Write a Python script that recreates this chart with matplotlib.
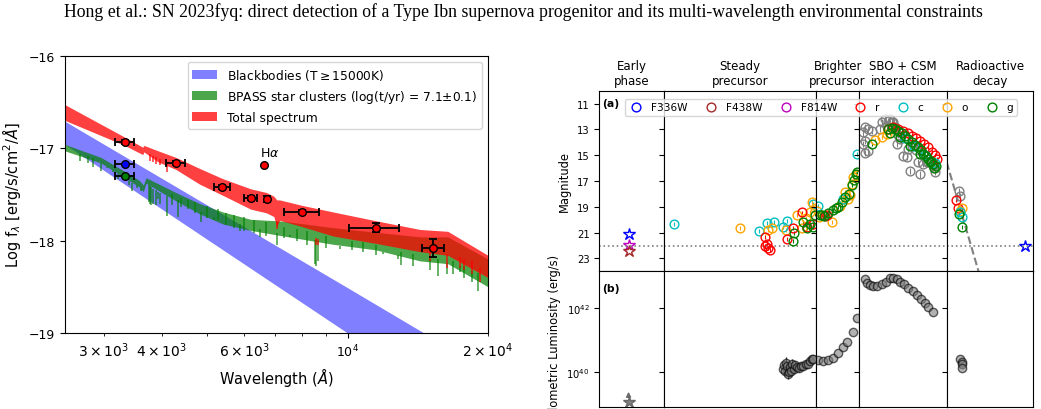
import numpy as np
import matplotlib
matplotlib.use("Agg")
import matplotlib.pyplot as plt
from matplotlib.lines import Line2D
from matplotlib.ticker import FixedLocator, NullLocator, NullFormatter

W, H = 1041, 410

# ---------------- SED panel data (log f_lambda vs wavelength in Angstrom) ----------------
bb_wl = [2480, 10000, 20000]
bb_hi = [-16.71, -18.51, -19.41]
bb_lo = [-16.96, -19.00, -20.01]

bpass_wl = [2480, 2960, 3327, 3580, 3650, 3700, 4285, 4820, 5400, 6200, 7270, 9300, 11480, 14300, 16400, 20000]
bpass_hi = [-16.96, -17.10, -17.25, -17.35, -17.40, -17.32, -17.48, -17.60, -17.69, -17.77, -17.79, -17.86, -17.91, -17.96, -17.96, -18.20]
bpass_lo = [-17.03, -17.16, -17.32, -17.42, -17.47, -17.38, -17.57, -17.71, -17.82, -17.89, -17.95, -18.04, -18.10, -18.22, -18.25, -18.50]

# absorption features in the BPASS spectrum: wavelength, top, bottom
bpass_line_wl = [2670, 2780, 2850, 2960, 3050, 3140, 3220, 3400, 3460, 3530, 3600,
                 3750, 3770, 3798, 3835, 3889, 3933, 3970, 4102, 4200, 4340, 4400, 4550,
                 4700, 4861, 5000, 5170, 5270, 5500, 5700, 5890, 6000, 6300, 6490, 6700,
                 7050, 7300, 7520, 7800, 8200, 8498, 8542, 8662, 9000, 9630, 10200, 10800,
                 11500, 11930, 12800, 13000, 13800, 15000, 15600, 16300, 16800, 17410,
                 17800, 18500, 19000]
bpass_line_top = [-17.06, -17.09, -17.11, -17.16, -17.20, -17.24, -17.28, -17.36, -17.38, -17.40, -17.43,
                  -17.40, -17.41, -17.42, -17.44, -17.45, -17.47, -17.48, -17.52, -17.50, -17.56, -17.54,
                  -17.56, -17.58, -17.69, -17.63, -17.74, -17.66, -17.70, -17.72, -17.82, -17.75, -17.78,
                  -17.87, -17.80, -17.92, -17.85, -17.94, -17.88, -17.90, -17.99, -17.99, -18.00, -17.95,
                  -18.06, -18.00, -18.02, -18.05, -18.12, -18.16, -18.12, -18.14, -18.20, -18.20, -18.24,
                  -18.22, -18.27, -18.28, -18.33, -18.35]
bpass_line_bot = [-17.14, -17.16, -17.20, -17.25, -17.22, -17.26, -17.33, -17.40, -17.46, -17.43, -17.46,
                  -17.58, -17.60, -17.61, -17.60, -17.62, -17.55, -17.60, -17.73, -17.62, -17.75, -17.64,
                  -17.66, -17.70, -17.80, -17.76, -17.78, -17.78, -17.83, -17.86, -17.90, -17.90, -17.92,
                  -17.96, -17.95, -18.05, -17.97, -17.96, -18.00, -18.05, -18.25, -18.27, -18.22, -18.08,
                  -18.09, -18.10, -18.12, -18.16, -18.15, -18.20, -18.26, -18.28, -18.32, -18.38, -18.36,
                  -18.36, -18.34, -18.40, -18.45, -18.55]

total_wl = [2480, 3327, 3640, 3660, 3930, 4285, 4820, 5400, 6200, 6700, 6950, 7050, 7150,
            8000, 9300, 11480, 14300, 16400, 20000]
total_hi = [-16.53, -16.88, -16.99, -16.97, -17.03, -17.10, -17.22, -17.33, -17.44, -17.48, -17.52,
            -17.56, -17.56, -17.62, -17.69, -17.785, -17.88, -17.90, -18.16]
total_lo = [-16.70, -16.97, -17.07, -17.04, -17.15, -17.23, -17.39, -17.51, -17.66, -17.70, -17.74,
            -17.85, -17.78, -17.85, -17.95, -18.03, -18.12, -18.16, -18.40]

total_line_wl = [3770, 3835, 3889, 3970, 4102, 7050, 8542, 8662, 15000, 16300, 17410, 17800, 18500, 19200]
total_line_top = [-17.06, -17.08, -17.10, -17.12, -17.16, -17.80, -17.97, -17.98, -18.10, -18.14, -18.18,
                  -18.20, -18.22, -18.30]
total_line_bot = [-17.14, -17.15, -17.17, -17.18, -17.26, -17.88, -18.05, -18.05, -18.22, -18.30, -18.30,
                  -18.32, -18.36, -18.45]

phot_wl = [3327, 4285, 5395, 6196, 6720, 8000, 11480, 15270]
phot_f = [-16.93, -17.16, -17.42, -17.54, -17.55, -17.69, -17.86, -18.08]
phot_wlerr = [155, 205, 215, 200, 0, 690, 1430, 850]
phot_ferr = [0.02, 0.02, 0.02, 0.02, 0.03, 0.02, 0.045, 0.10]
bb_phot = (3327, -17.17, 155)
bpass_phot = (3327, -17.30, 155)
halpha_phot = (6607, -17.18)

# ---------------- light curve data (x = position inside each phase panel, 0-100) ----------------
phases = ["Early\nphase", "Steady\nprecursor", "Brighter\nprecursor",
          "SBO + CSM\ninteraction", "Radioactive\ndecay"]
filters = ["F336W", "F438W", "F814W", "r", "c", "o", "g"]
colors = {"F336W": "blue", "F438W": "brown", "F814W": "m", "r": "red",
          "c": "c", "o": "orange", "g": "g", "other": "gray"}

early_stars = {"F336W": ([45], [21.1]), "F814W": ([45], [21.95]), "F438W": ([45], [22.45])}
steady = {
    "c": ([6.4, 62.6, 67.5, 72.3, 78.4, 80.7, 97.8],
          [20.31, 20.88, 20.23, 20.15, 20.54, 20.10, 18.75]),
    "o": ([50.2, 68.6, 70.8, 80.2, 87.3, 90.6, 93.4, 96.0, 97.4, 99.3],
          [20.67, 20.80, 20.62, 20.80, 19.65, 20.62, 19.90, 19.38, 18.60, 19.13]),
    "r": ([66.6, 66.4, 67.5, 68.6, 69.7, 81.1, 84.6, 90.6, 93.9, 98.0],
          [21.36, 22.03, 21.90, 22.20, 22.38, 21.49, 20.67, 19.44, 20.54, 20.30]),
    "g": ([85.0, 85.5, 91.6, 94.3, 96.0, 98.2, 99.3],
          [21.64, 21.05, 20.15, 20.62, 20.30, 20.54, 19.60]),
}
brighter = {
    "o": ([2.3, 7.0, 36.3, 55.4, 67.0, 74.6, 78.5, 83.0, 86.1, 93.9],
          [19.30, 19.80, 20.20, 18.90, 17.85, 18.36, 18.10, 17.20, 16.70, 16.57]),
    "r": ([20.8, 24.7], [19.70, 19.65]),
    "c": ([5.3, 63.0, 94.0], [18.92, 18.36, 14.90]),
    "g": ([9.2, 13.2, 18.5, 28.4, 40.0, 46.2, 51.5, 59.4, 67.0, 76.9, 82.4, 87.8, 92.4, 95.4],
          [19.60, 19.65, 19.70, 19.50, 19.26, 19.10, 19.00, 18.60, 18.23, 17.98, 17.34, 16.95, 16.44, 16.30]),
}
sbo = {
    "other": ([6.5, 4.6, 10.3, 14.2, 6.5, 4.6, 10.3, 6.5, 29.4, 33.2, 37.1, 25.6, 31.4, 40.8, 23.7,
               35.1, 38.6, 44.3, 42.8, 46.6, 50.3, 54.2, 56.1, 58.0, 60.3, 64.9, 67.5, 69.5,
               73.2, 77.1, 78.9, 84.7, 86.6, 86.6],
              [12.85, 13.23, 12.98, 13.10, 13.87, 14.13, 14.70, 14.85, 12.20, 12.34, 12.46, 12.46, 12.72,
               12.85, 12.98, 12.20, 12.40, 13.40, 14.13, 13.75, 15.03, 15.15, 14.52, 16.23, 14.30, 14.60,
               15.54, 16.49, 15.67, 15.54, 15.54, 15.80, 15.98, 16.31]),
    "r": ([32.8, 38.6, 44.3, 50.0, 55.7, 60.3, 64.9, 69.5, 74.1, 78.6, 83.2, 86.6, 88.9],
          [12.95, 12.85, 12.95, 13.10, 13.30, 13.50, 13.70, 13.90, 14.15, 14.40, 14.75, 15.00, 15.30]),
    "c": ([52.3, 63.0, 75.0, 86.6], [13.70, 14.26, 15.00, 15.60]),
    "o": ([18.0, 25.6, 31.4], [13.80, 13.57, 13.36]),
    "g": ([14.2, 33.2, 37.1, 40.8, 44.6, 48.5, 52.3, 56.1, 60.0, 63.7, 67.5, 70.6, 73.2, 76.3,
           78.9, 82.0, 84.7, 87.8, 35.0, 46.5, 58.0, 69.5, 80.9, 85.5],
          [14.13, 13.00, 12.90, 13.00, 13.10, 13.30, 13.49, 13.75, 14.00, 14.20, 14.38, 14.60, 14.90,
           15.10, 15.28, 15.45, 15.67, 15.87, 13.30, 13.60, 14.30, 14.90, 15.50, 16.00]),
}
decay = {
    "other": ([14.5, 15.0], [17.80, 18.20]),
    "r": ([10.7, 13.4], [18.49, 19.13]),
    "o": ([17.3, 15.4], [19.08, 19.30]),
    "c": ([15.4, 17.3], [19.40, 19.77]),
    "g": ([14.5, 17.3], [19.52, 20.54]),
}
decay_star = ([90.4], [22.0])
decay_tail_t = [0, 40]
decay_tail_mag = [15.55, 24.75]
limit_mag = 22.0

# (b) bolometric luminosity, log10(L / erg s^-1)
early_logL = ([45], [39.09])
steady_logL = ([78.4, 79.0, 79.6, 80.5, 80.9, 81.8, 82.2, 82.9, 83.6, 84.2, 85.5, 86.4, 87.3, 88.8,
                90.1, 91.6, 93.4, 94.9, 96.0, 97.2, 98.2],
               [40.10, 40.22, 40.05, 40.30, 40.20, 39.95, 40.00, 40.15, 40.05, 40.25, 40.10, 40.22,
                40.15, 40.12, 40.20, 40.20, 40.25, 40.27, 40.35, 40.41, 40.42])
steady_logL_err = [0.15, 0.12, 0.15, 0.18, 0.12, 0.15, 0.12, 0.15, 0.12, 0.15, 0.12, 0.12,
                   0.10, 0.10, 0.10, 0.10, 0.08, 0.08, 0.08, 0.06, 0.06]
brighter_logL = ([5.3, 16.9, 28.4, 38.6, 50.1, 61.7, 72.3, 84.8, 94.0],
                 [40.38, 40.35, 40.39, 40.45, 40.61, 40.79, 40.95, 41.26, 41.68])
sbo_logL = ([6.5, 9.2, 12.2, 16.0, 20.6, 25.6, 30.5, 35.1, 38.9, 42.8, 46.6, 51.1, 56.1, 61.1,
             65.7, 70.3, 75.2, 78.9, 84.7],
            [42.89, 42.79, 42.71, 42.68, 42.68, 42.74, 42.82, 42.92, 42.94, 42.89, 42.82, 42.74,
             42.63, 42.53, 42.40, 42.27, 42.15, 42.03, 41.89])
decay_logL = ([15.4, 17.3, 18.0, 18.0], [40.42, 40.33, 40.26, 40.13])


def px_axes(fig, x0, y0, x1, y1):
    return fig.add_axes([x0 / W, 1 - y1 / H, (x1 - x0) / W, (y1 - y0) / H])


fig = plt.figure(figsize=(W / 100, H / 100), dpi=100)

fig.text(0.503, 1 - 12.5 / H,
         "Hong et al.: SN 2023fyq: direct detection of a Type Ibn supernova progenitor "
         "and its multi-wavelength environmental constraints",
         ha="center", va="center", fontsize=12.8, family="Liberation Serif")

# ---------------- left: SED ----------------
ax = px_axes(fig, 65, 56.7, 488, 334)
ax.fill_between(bb_wl, bb_lo, bb_hi, color="blue", alpha=0.5, lw=0,
                label=r"Blackbodies (T$\geq$15000K)")
ax.fill_between(bpass_wl, bpass_lo, bpass_hi, color="green", alpha=0.7, lw=0,
                label=r"BPASS star clusters (log(t/yr) = 7.1$\pm$0.1)")
ax.vlines(bpass_line_wl, bpass_line_bot, bpass_line_top, color="green", alpha=0.7, lw=1.2)
ax.fill_between(total_wl, total_lo, total_hi, color="red", alpha=0.75, lw=0,
                label="Total spectrum")
ax.vlines(total_line_wl, total_line_bot, total_line_top, color="red", alpha=0.75, lw=1.2)

ekw = dict(fmt="o", ms=5.5, mec="k", ecolor="k", capsize=3, elinewidth=1.3, capthick=1.3, zorder=5)
ax.errorbar(phot_wl, phot_f, xerr=phot_wlerr, yerr=phot_ferr, mfc="red", **ekw)
ax.errorbar(bb_phot[0], bb_phot[1], xerr=bb_phot[2], mfc="blue", **ekw)
ax.errorbar(bpass_phot[0], bpass_phot[1], xerr=bpass_phot[2], mfc="green", **ekw)
ax.plot(halpha_phot[0], halpha_phot[1], "o", ms=5.5, mfc="red", mec="k", zorder=5)
ax.text(6810, -17.05, r"H$\alpha$", ha="center", va="center", fontsize=9)

ax.set_xscale("log")
ax.set_xlim(2480, 20000)
ax.set_ylim(-19, -16)
ax.set_yticks([-19, -18, -17, -16])
ax.tick_params(labelsize=9)
ax.set_xlabel(r"Wavelength ($\AA$)", fontsize=10.5)
ax.set_ylabel(r"Log f$_\lambda$ [erg/s/cm$^2$/$\AA$]", fontsize=10.5)
ax.legend(loc="upper right", fontsize=8.8)

# ---------------- right: light curve ----------------
col_x = [599.3, 664.3, 816.0, 859.3, 946.7, 1033.3]
y_top, y_mid, y_bot = 91.7, 272.3, 407.7
top_axes, bot_axes = [], []
for i in range(5):
    a = px_axes(fig, col_x[i], y_top, col_x[i + 1], y_mid)
    b = px_axes(fig, col_x[i], y_mid, col_x[i + 1], y_bot)
    top_axes.append(a)
    bot_axes.append(b)

mkw = dict(fmt="o", ms=6.3, mfc="none", mew=1.0, elinewidth=0.8, capsize=0)
star_kw = dict(marker="*", ms=9, mfc="none", mew=1.0, ls="none")

ax = top_axes[0]
for f, (t, m) in early_stars.items():
    ax.plot(t, m, color=colors[f], **star_kw)
for ax, data in zip(top_axes[1:], [steady, brighter, sbo, decay]):
    for f, (t, m) in data.items():
        err = 0.25 if f == "other" else 0.15
        ax.errorbar(t, m, yerr=err, color=colors[f], **mkw)
top_axes[4].plot(decay_star[0], decay_star[1], color="blue", **star_kw)
top_axes[4].plot(decay_tail_t, decay_tail_mag, "--", color="gray", lw=1.5)

for i, ax in enumerate(top_axes):
    ax.axhline(limit_mag, color="gray", ls=":", lw=1.2)
    ax.set_xlim(0, 100)
    ax.set_ylim(24, 10)
    ax.yaxis.set_major_locator(FixedLocator([11, 13, 15, 17, 19, 21, 23]))
    ax.set_title(phases[i], fontsize=8.5, pad=5)
    ax.xaxis.set_major_locator(NullLocator())
    ax.tick_params(labelsize=7.2)
    if i > 0:
        ax.yaxis.set_major_formatter(NullFormatter())

ax = bot_axes[0]
ax.plot(early_logL[0], [10 ** v for v in early_logL[1]], "*", ms=9, mfc="gray", mec="dimgray")
ax.annotate("", xy=(45, 10 ** 39.48), xytext=(45, 10 ** 39.15),
            arrowprops=dict(arrowstyle="-|>", color="dimgray", lw=1.0, mutation_scale=7))

st_L = [10 ** v for v in steady_logL[1]]
st_lo = [10 ** v - 10 ** (v - e) for v, e in zip(steady_logL[1], steady_logL_err)]
st_hi = [10 ** (v + e) - 10 ** v for v, e in zip(steady_logL[1], steady_logL_err)]
bot_axes[1].errorbar(steady_logL[0], st_L, yerr=[st_lo, st_hi], fmt="none",
                     ecolor="k", elinewidth=1.0, alpha=0.85)
bot_axes[1].plot(steady_logL[0], st_L, "o", ms=6, mfc="gray", mec="k", alpha=0.6)
for ax, (t, l) in zip(bot_axes[2:], [brighter_logL, sbo_logL, decay_logL]):
    ax.plot(t, [10 ** v for v in l], "o", ms=6, mfc="gray", mec="k", alpha=0.6)

for i, ax in enumerate(bot_axes):
    ax.set_yscale("log")
    ax.set_xlim(0, 100)
    ax.set_ylim(10 ** 38.93, 10 ** 43.14)
    ax.yaxis.set_major_locator(FixedLocator([1e40, 1e42]))
    ax.yaxis.set_minor_locator(NullLocator())
    ax.xaxis.set_major_locator(NullLocator())
    ax.tick_params(labelsize=7.2)
    if i > 0:
        ax.yaxis.set_major_formatter(NullFormatter())

top_axes[0].set_ylabel("Magnitude", fontsize=8.3)
bot_axes[0].set_ylabel("Bolometric Luminosity (erg/s)", fontsize=8.3)
top_axes[0].text(0.04, 0.93, "(a)", transform=top_axes[0].transAxes, fontsize=7.8,
                 fontweight="bold", va="center")
bot_axes[0].text(0.04, 0.88, "(b)", transform=bot_axes[0].transAxes, fontsize=7.8,
                 fontweight="bold", va="center")

handles = [Line2D([], [], marker="o", ls="none", ms=6.3, mfc="none", mew=1.0, color=colors[f])
           for f in filters]
fig.legend(handles, filters, loc="upper left", ncol=7, fontsize=7.6,
           bbox_to_anchor=(619.3 / W, 1 - 94.3 / H), columnspacing=1.45,
           handletextpad=0.67, borderpad=0.35, handlelength=1.5)

fig.savefig("out.png", dpi=100)
